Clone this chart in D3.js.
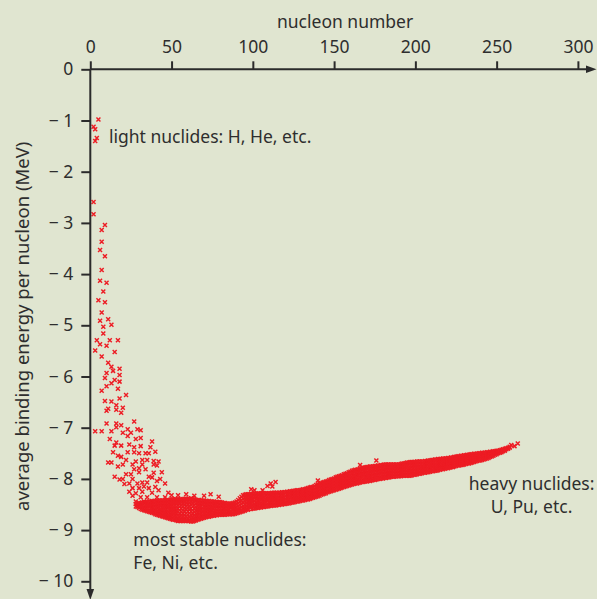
<!DOCTYPE html>
<html>
<head>
<meta charset="utf-8">
<script src="https://cdn.jsdelivr.net/npm/d3@7"></script>
<style>
  html, body { margin: 0; padding: 0; background: #e0e5d0; }
  svg { display: block; }
  text { font-family: "Noto Sans", "Open Sans", sans-serif; fill: #2e2e2e; }
</style>
</head>
<body>
<svg id="chart" width="597" height="599"></svg>
<script>
// Average binding energy per nucleon (MeV) against nucleon number A.

const xTicks = [0, 50, 100, 150, 200, 250, 300];
const yTicks = [0, -1, -2, -3, -4, -5, -6, -7, -8, -9, -10];

// Light nuclides near the top left.
const lightNuclides = [
  [2, -1.12], [3, -1.17], [5, -0.98], [4, -1.34], [3, -1.40]
];

// Scattered nuclides with A below ~65, read one by one: [A, B/A].
const scatterUpper = [
  [2, -2.59], [2, -2.83], [9, -3.04], [7, -3.14], [7, -3.37], [6, -3.53], [9, -3.65],
  [7, -3.92], [6, -4.13], [10, -4.17], [8, -4.34], [5, -4.51], [9, -4.55], [7, -4.75],
  [6, -4.91], [11, -4.88], [8, -5.03], [13, -4.99], [8, -5.16], [4, -5.29], [6, -5.37],
  [10, -5.40], [12, -5.29], [17, -5.29], [3, -5.49], [15, -5.52], [7, -5.61], [11, -5.73],
  [13, -5.81], [18, -5.85], [14, -5.89], [10, -5.93], [18, -5.97], [9, -6.03], [15, -6.07],
  [18, -6.10], [13, -6.13], [10, -6.19], [17, -6.24], [7, -6.28], [22, -6.36], [18, -6.43],
  [9, -6.48], [13, -6.49], [16, -6.56], [11, -6.63], [20, -6.61], [10, -6.67], [16, -6.65],
  [19, -6.71], [27, -6.88], [10, -6.92], [16, -6.92], [19, -6.95], [16, -6.99], [23, -7.03],
  [29, -7.03], [31, -7.05]
];

const scatterLower = [
  [3, -7.07], [7, -7.07], [13, -7.07], [20, -7.10], [25, -7.10], [23, -7.16], [28, -7.22],
  [31, -7.20], [12, -7.22], [16, -7.29], [15, -7.35], [19, -7.35], [24, -7.33], [27, -7.38],
  [31, -7.36], [38, -7.27], [37, -7.38], [14, -7.48], [17, -7.55], [19, -7.57], [23, -7.48],
  [27, -7.48], [30, -7.50], [34, -7.50], [36, -7.50], [40, -7.47], [22, -7.63], [28, -7.66],
  [32, -7.63], [35, -7.63], [39, -7.65], [42, -7.66], [11, -7.68], [13, -7.68], [17, -7.76],
  [20, -7.72], [26, -7.72], [32, -7.72], [39, -7.72], [41, -7.74], [34, -7.81], [30, -7.79],
  [27, -7.81], [39, -7.88], [44, -7.87], [22, -7.91], [25, -7.91], [30, -7.87], [15, -7.96],
  [18, -8.01], [20, -8.00], [26, -8.00], [36, -7.96], [38, -7.97], [21, -8.10], [24, -8.09],
  [29, -8.09], [32, -8.07], [35, -8.07], [41, -8.04], [43, -8.00], [46, -8.09], [26, -8.18],
  [30, -8.18], [33, -8.15], [36, -8.18], [40, -8.16], [42, -8.22], [24, -8.25], [28, -8.28],
  [32, -8.25], [38, -8.27], [48, -8.27], [50, -8.32], [54, -8.32], [59, -8.30], [64, -8.33],
  [26, -8.33], [31, -8.36], [35, -8.36], [41, -8.36], [46, -8.36], [28, -8.44], [33, -8.44],
  [38, -8.43], [44, -8.44], [52, -8.41], [57, -8.41], [62, -8.38]
];

// Isolated points sitting just above or beyond the main band.
const bandOutliers = [
  [70, -8.33], [74, -8.30], [79, -8.35], [99, -8.20], [101, -8.22], [106, -8.22],
  [109, -8.14], [111, -8.09], [112, -8.15], [114, -8.06], [140, -8.03], [166, -7.73],
  [176, -7.64], [259, -7.34], [261, -7.36], [263, -7.31]
];

// Dense valley of stability: each row is [A, B/A values of its isobars...].
const bandLight = [
  [28, -8.49, -8.54], [29, -8.48, -8.55], [30, -8.47, -8.52, -8.57], [31, -8.47, -8.53, -8.59],
  [32, -8.46, -8.53, -8.60], [33, -8.46, -8.54, -8.61], [34, -8.45, -8.51, -8.57, -8.62],
  [35, -8.45, -8.51, -8.58, -8.63], [36, -8.44, -8.51, -8.58, -8.64], [37, -8.44, -8.51, -8.58, -8.65],
  [38, -8.44, -8.50, -8.56, -8.61, -8.66], [39, -8.43, -8.49, -8.55, -8.61, -8.67],
  [40, -8.43, -8.50, -8.56, -8.63, -8.69], [41, -8.43, -8.50, -8.57, -8.64, -8.70],
  [42, -8.42, -8.49, -8.56, -8.64, -8.71], [43, -8.42, -8.48, -8.54, -8.60, -8.66, -8.72],
  [44, -8.42, -8.48, -8.55, -8.61, -8.67, -8.73], [45, -8.42, -8.49, -8.55, -8.62, -8.68, -8.74],
  [46, -8.41, -8.48, -8.55, -8.62, -8.69, -8.75], [47, -8.41, -8.48, -8.55, -8.62, -8.69, -8.76],
  [48, -8.41, -8.47, -8.53, -8.59, -8.65, -8.71, -8.77], [49, -8.41, -8.47, -8.53, -8.60, -8.66, -8.72, -8.78],
  [50, -8.40, -8.47, -8.53, -8.60, -8.66, -8.73, -8.79], [51, -8.40, -8.47, -8.54, -8.60, -8.67, -8.74, -8.80],
  [52, -8.40, -8.47, -8.53, -8.60, -8.67, -8.73, -8.80], [53, -8.40, -8.47, -8.54, -8.61, -8.67, -8.74, -8.81],
  [54, -8.40, -8.46, -8.52, -8.58, -8.64, -8.70, -8.76, -8.82], [55, -8.40, -8.47, -8.54, -8.61, -8.68, -8.75, -8.82],
  [56, -8.40, -8.46, -8.52, -8.58, -8.64, -8.70, -8.76, -8.82], [57, -8.40, -8.47, -8.54, -8.61, -8.68, -8.75, -8.82],
  [58, -8.39, -8.45, -8.51, -8.57, -8.63, -8.70, -8.76, -8.82], [59, -8.39, -8.46, -8.53, -8.60, -8.67, -8.74, -8.82],
  [60, -8.39, -8.45, -8.51, -8.57, -8.63, -8.70, -8.76, -8.82], [61, -8.39, -8.46, -8.53, -8.60, -8.67, -8.75, -8.82],
  [62, -8.39, -8.45, -8.51, -8.58, -8.64, -8.70, -8.77, -8.83], [63, -8.40, -8.47, -8.54, -8.61, -8.68, -8.76, -8.83],
  [64, -8.40, -8.46, -8.52, -8.58, -8.64, -8.70, -8.76, -8.82], [65, -8.41, -8.48, -8.55, -8.61, -8.68, -8.74, -8.81],
  [66, -8.41, -8.47, -8.53, -8.60, -8.66, -8.73, -8.80], [67, -8.41, -8.48, -8.54, -8.60, -8.67, -8.73, -8.79],
  [68, -8.42, -8.48, -8.54, -8.60, -8.66, -8.72, -8.78], [69, -8.42, -8.49, -8.56, -8.63, -8.70, -8.77],
  [70, -8.42, -8.48, -8.55, -8.62, -8.69, -8.76]
];

const bandMiddle = [
  [71, -8.43, -8.49, -8.55, -8.62, -8.68, -8.75], [72, -8.43, -8.49, -8.55, -8.61, -8.68, -8.74],
  [73, -8.43, -8.50, -8.56, -8.62, -8.68, -8.74], [74, -8.44, -8.50, -8.56, -8.61, -8.67, -8.73],
  [75, -8.44, -8.50, -8.56, -8.61, -8.67, -8.72], [76, -8.44, -8.51, -8.58, -8.65, -8.72],
  [77, -8.45, -8.51, -8.58, -8.64, -8.71], [78, -8.45, -8.52, -8.58, -8.65, -8.71],
  [79, -8.45, -8.51, -8.57, -8.64, -8.70], [80, -8.45, -8.52, -8.58, -8.64, -8.70],
  [81, -8.46, -8.52, -8.58, -8.64, -8.70], [82, -8.47, -8.53, -8.59, -8.64, -8.70],
  [83, -8.47, -8.53, -8.58, -8.64, -8.70], [84, -8.48, -8.54, -8.60, -8.65, -8.69],
  [85, -8.48, -8.53, -8.58, -8.64, -8.69], [86, -8.49, -8.54, -8.59, -8.64, -8.69],
  [87, -8.48, -8.53, -8.59, -8.64, -8.69], [88, -8.47, -8.53, -8.58, -8.64, -8.69],
  [89, -8.46, -8.52, -8.57, -8.63, -8.68], [90, -8.44, -8.50, -8.56, -8.61, -8.67],
  [91, -8.41, -8.47, -8.53, -8.60, -8.66], [92, -8.38, -8.44, -8.51, -8.58, -8.65],
  [93, -8.35, -8.42, -8.49, -8.56, -8.64], [94, -8.32, -8.39, -8.46, -8.53, -8.58, -8.63],
  [95, -8.31, -8.37, -8.43, -8.50, -8.56, -8.62], [96, -8.30, -8.36, -8.42, -8.48, -8.54, -8.60],
  [97, -8.30, -8.36, -8.43, -8.49, -8.55, -8.60], [98, -8.30, -8.36, -8.42, -8.47, -8.53, -8.59],
  [99, -8.29, -8.35, -8.41, -8.47, -8.53, -8.59], [100, -8.29, -8.35, -8.41, -8.46, -8.52, -8.58],
  [101, -8.29, -8.35, -8.42, -8.48, -8.53, -8.58], [102, -8.29, -8.35, -8.40, -8.46, -8.51, -8.57],
  [103, -8.29, -8.35, -8.41, -8.47, -8.52, -8.57], [104, -8.28, -8.34, -8.39, -8.45, -8.50, -8.56],
  [105, -8.28, -8.34, -8.40, -8.46, -8.51, -8.56], [106, -8.28, -8.33, -8.39, -8.44, -8.50, -8.55],
  [107, -8.28, -8.35, -8.42, -8.48, -8.55], [108, -8.28, -8.34, -8.41, -8.47, -8.54],
  [109, -8.28, -8.35, -8.41, -8.48, -8.54], [110, -8.28, -8.34, -8.40, -8.47, -8.53],
  [111, -8.28, -8.34, -8.41, -8.47, -8.53], [112, -8.27, -8.33, -8.40, -8.46, -8.52],
  [113, -8.27, -8.34, -8.40, -8.46, -8.52], [114, -8.27, -8.33, -8.39, -8.46, -8.52],
  [115, -8.27, -8.33, -8.39, -8.45, -8.51], [116, -8.27, -8.34, -8.40, -8.45, -8.51],
  [117, -8.27, -8.33, -8.39, -8.44, -8.50], [118, -8.26, -8.32, -8.38, -8.44, -8.50],
  [119, -8.26, -8.32, -8.38, -8.43, -8.49], [120, -8.26, -8.33, -8.39, -8.44, -8.49],
  [121, -8.25, -8.31, -8.37, -8.43, -8.48], [122, -8.25, -8.31, -8.36, -8.42, -8.48],
  [123, -8.24, -8.30, -8.36, -8.42, -8.47], [124, -8.24, -8.30, -8.35, -8.41, -8.46],
  [125, -8.23, -8.29, -8.35, -8.41, -8.46], [126, -8.23, -8.29, -8.34, -8.40, -8.45],
  [127, -8.22, -8.28, -8.33, -8.39, -8.44], [128, -8.22, -8.28, -8.34, -8.39, -8.44],
  [129, -8.22, -8.27, -8.33, -8.38, -8.43], [130, -8.21, -8.26, -8.32, -8.37, -8.42],
  [131, -8.20, -8.26, -8.31, -8.37, -8.42], [132, -8.20, -8.25, -8.31, -8.36, -8.41],
  [133, -8.19, -8.24, -8.30, -8.35, -8.40], [134, -8.18, -8.24, -8.29, -8.35, -8.40],
  [135, -8.17, -8.23, -8.28, -8.34, -8.39], [136, -8.16, -8.22, -8.27, -8.33, -8.38],
  [137, -8.16, -8.21, -8.27, -8.32, -8.37], [138, -8.14, -8.20, -8.25, -8.31, -8.36],
  [139, -8.12, -8.18, -8.24, -8.30, -8.35], [140, -8.11, -8.17, -8.23, -8.29, -8.34],
  [141, -8.09, -8.15, -8.21, -8.27, -8.33], [142, -8.08, -8.14, -8.20, -8.26, -8.31],
  [143, -8.07, -8.13, -8.19, -8.25, -8.30], [144, -8.06, -8.12, -8.18, -8.24, -8.29],
  [145, -8.05, -8.11, -8.17, -8.23, -8.28], [146, -8.04, -8.10, -8.15, -8.21, -8.26],
  [147, -8.02, -8.08, -8.14, -8.20, -8.25], [148, -8.01, -8.07, -8.13, -8.19, -8.24],
  [149, -8.00, -8.06, -8.12, -8.18, -8.23], [150, -7.99, -8.05, -8.11, -8.17, -8.22]
];

const bandHeavy = [
  [151, -7.97, -8.03, -8.09, -8.15, -8.21], [152, -7.96, -8.02, -8.08, -8.14, -8.20],
  [153, -7.95, -8.01, -8.07, -8.13, -8.19], [154, -7.94, -8.00, -8.06, -8.12, -8.18],
  [155, -7.93, -7.99, -8.05, -8.11, -8.17], [156, -7.91, -7.97, -8.04, -8.10, -8.16],
  [157, -7.90, -7.96, -8.03, -8.09, -8.15], [158, -7.89, -7.95, -8.01, -8.08, -8.14],
  [159, -7.87, -7.94, -8.00, -8.07, -8.13], [160, -7.86, -7.93, -7.99, -8.06, -8.12],
  [161, -7.84, -7.91, -7.97, -8.04, -8.11], [162, -7.83, -7.90, -7.97, -8.03, -8.10],
  [163, -7.82, -7.89, -7.96, -8.02, -8.09], [164, -7.82, -7.89, -7.95, -8.02, -8.09],
  [165, -7.81, -7.88, -7.94, -8.01, -8.08], [166, -7.80, -7.87, -7.94, -8.00, -8.07],
  [167, -7.79, -7.86, -7.93, -7.99, -8.06], [168, -7.78, -7.85, -7.92, -7.99, -8.06],
  [169, -7.78, -7.85, -7.91, -7.98, -8.05], [170, -7.77, -7.84, -7.91, -7.98, -8.05],
  [171, -7.77, -7.84, -7.90, -7.97, -8.04], [172, -7.76, -7.83, -7.90, -7.97, -8.04],
  [173, -7.76, -7.83, -7.89, -7.96, -8.03], [174, -7.76, -7.82, -7.89, -7.95, -8.02],
  [175, -7.75, -7.82, -7.88, -7.95, -8.02], [176, -7.75, -7.81, -7.88, -7.94, -8.01],
  [177, -7.74, -7.81, -7.87, -7.94, -8.00], [178, -7.74, -7.80, -7.87, -7.93, -8.00],
  [179, -7.73, -7.80, -7.86, -7.93, -7.99], [180, -7.73, -7.79, -7.86, -7.92, -7.99],
  [181, -7.72, -7.79, -7.85, -7.92, -7.98], [182, -7.72, -7.78, -7.85, -7.91, -7.98],
  [183, -7.72, -7.78, -7.84, -7.91, -7.97], [184, -7.72, -7.78, -7.84, -7.90, -7.97],
  [185, -7.72, -7.78, -7.84, -7.90, -7.96], [186, -7.72, -7.78, -7.84, -7.90, -7.96],
  [187, -7.72, -7.78, -7.84, -7.90, -7.96], [188, -7.72, -7.77, -7.83, -7.89, -7.95],
  [189, -7.72, -7.77, -7.83, -7.89, -7.95], [190, -7.72, -7.77, -7.83, -7.89, -7.95],
  [191, -7.71, -7.77, -7.83, -7.89, -7.95], [192, -7.70, -7.76, -7.82, -7.88, -7.94],
  [193, -7.70, -7.76, -7.82, -7.88, -7.94], [194, -7.69, -7.75, -7.81, -7.88, -7.94],
  [195, -7.68, -7.75, -7.81, -7.87, -7.94], [196, -7.68, -7.74, -7.81, -7.87, -7.94],
  [197, -7.67, -7.74, -7.80, -7.87, -7.94], [198, -7.67, -7.73, -7.80, -7.86, -7.93],
  [199, -7.67, -7.73, -7.79, -7.86, -7.92], [200, -7.67, -7.73, -7.79, -7.85, -7.92],
  [201, -7.66, -7.72, -7.79, -7.85, -7.91], [202, -7.66, -7.72, -7.78, -7.84, -7.90],
  [203, -7.66, -7.72, -7.78, -7.84, -7.90], [204, -7.66, -7.72, -7.78, -7.83, -7.89],
  [205, -7.66, -7.72, -7.77, -7.83, -7.88], [206, -7.65, -7.71, -7.77, -7.82, -7.88],
  [207, -7.65, -7.71, -7.76, -7.82, -7.87], [208, -7.64, -7.70, -7.76, -7.81, -7.87],
  [209, -7.64, -7.70, -7.75, -7.81, -7.86], [210, -7.63, -7.69, -7.75, -7.80, -7.85],
  [211, -7.63, -7.69, -7.74, -7.80, -7.85], [212, -7.62, -7.68, -7.74, -7.79, -7.84],
  [213, -7.62, -7.68, -7.73, -7.79, -7.84], [214, -7.61, -7.67, -7.73, -7.78, -7.83],
  [215, -7.61, -7.67, -7.72, -7.77, -7.82], [216, -7.61, -7.67, -7.72, -7.77, -7.81],
  [217, -7.60, -7.66, -7.71, -7.76, -7.81], [218, -7.60, -7.66, -7.71, -7.76, -7.80],
  [219, -7.60, -7.65, -7.70, -7.75, -7.79], [220, -7.59, -7.65, -7.70, -7.75, -7.79],
  [221, -7.59, -7.64, -7.69, -7.74, -7.78], [222, -7.58, -7.64, -7.69, -7.73, -7.77],
  [223, -7.58, -7.63, -7.68, -7.73, -7.77], [224, -7.57, -7.63, -7.68, -7.72, -7.76],
  [225, -7.57, -7.62, -7.67, -7.71, -7.75], [226, -7.56, -7.62, -7.67, -7.71, -7.74],
  [227, -7.56, -7.61, -7.66, -7.70, -7.74], [228, -7.55, -7.61, -7.66, -7.70, -7.73],
  [229, -7.55, -7.60, -7.65, -7.69, -7.73], [230, -7.54, -7.60, -7.65, -7.69, -7.72],
  [231, -7.54, -7.59, -7.64, -7.68, -7.71], [232, -7.53, -7.59, -7.64, -7.68, -7.70],
  [233, -7.53, -7.58, -7.63, -7.67, -7.70], [234, -7.52, -7.58, -7.63, -7.67, -7.69],
  [235, -7.52, -7.57, -7.62, -7.66, -7.68], [236, -7.51, -7.57, -7.62, -7.67],
  [237, -7.51, -7.56, -7.61, -7.66], [238, -7.51, -7.56, -7.61, -7.65],
  [239, -7.50, -7.55, -7.60, -7.64], [240, -7.50, -7.55, -7.59, -7.64],
  [241, -7.49, -7.54, -7.59, -7.63], [242, -7.49, -7.54, -7.58, -7.62],
  [243, -7.49, -7.53, -7.57, -7.61], [244, -7.48, -7.53, -7.57, -7.60],
  [245, -7.48, -7.52, -7.56, -7.59], [246, -7.47, -7.51, -7.54, -7.57],
  [247, -7.47, -7.50, -7.53, -7.56], [248, -7.46, -7.50, -7.52, -7.55],
  [249, -7.46, -7.49, -7.53], [250, -7.45, -7.48, -7.52], [251, -7.45, -7.48, -7.50],
  [252, -7.44, -7.47, -7.49], [253, -7.43, -7.46, -7.48], [254, -7.42, -7.44, -7.46],
  [255, -7.41, -7.43, -7.45], [256, -7.40, -7.42], [257, -7.39, -7.41], [258, -7.37, -7.39]
];

const annotations = [
  { lines: ["light nuclides: H, He, etc."], a: 11.5, b: -1.445, anchor: "start" },
  { lines: ["most stable nuclides:", "Fe, Ni, etc."], a: 26.5, b: -9.32, anchor: "start" },
  { lines: ["heavy nuclides:", "U, Pu, etc."], a: 271.5, b: -8.22, anchor: "middle" }
];

const W = 597, H = 599;
const fontSize = "17.5px";
const svg = d3.select("#chart");

svg.append("rect").attr("width", W).attr("height", H).attr("fill", "#e0e5d0");

const x = d3.scaleLinear().domain([0, 300]).range([90.3, 577.9]);
const y = d3.scaleLinear().domain([0, -10]).range([69.3, 581.3]);

const ink = "#2b2b2b";
const red = "#ed1c24";

// Flatten every group into [A, B/A] points.
const points = []
  .concat(lightNuclides, scatterUpper, scatterLower, bandOutliers)
  .concat(...[bandLight, bandMiddle, bandHeavy].map(rows =>
    rows.flatMap(r => r.slice(1).map(v => [r[0], v]))));

const s = 2;
const cross = `M${-s},${-s}L${s},${s}M${-s},${s}L${s},${-s}`;

svg.append("g")
  .attr("fill", "none")
  .attr("stroke", red)
  .attr("stroke-width", 1.45)
  .selectAll("path")
  .data(points)
  .join("path")
  .attr("transform", d => `translate(${x(d[0])},${y(d[1])})`)
  .attr("d", cross);

// Axes
const fmtY = v => v === 0 ? "0" : "\u2212 " + Math.abs(v);

const gx = svg.append("g")
  .attr("transform", `translate(0,${y(0)})`)
  .call(d3.axisTop(x).tickValues(xTicks).tickSize(8).tickPadding(8).tickFormat(d3.format("d")));

const gy = svg.append("g")
  .attr("transform", `translate(${x(0)},0)`)
  .call(d3.axisLeft(y).tickValues(yTicks).tickSize(9).tickPadding(8).tickFormat(fmtY));

[gx, gy].forEach(g => {
  g.select(".domain").remove();
  g.selectAll(".tick line").attr("stroke", ink).attr("stroke-width", 2);
  g.selectAll(".tick text")
    .attr("fill", ink)
    .style("font-family", '"Noto Sans", sans-serif')
    .style("font-size", fontSize);
});

// Axis lines with arrowheads
const axisG = svg.append("g").attr("stroke", ink).attr("stroke-width", 2);
axisG.append("line").attr("x1", x(0)).attr("x2", W - 8).attr("y1", y(0)).attr("y2", y(0));
axisG.append("line").attr("x1", x(0)).attr("x2", x(0)).attr("y1", y(0)).attr("y2", H - 6);

svg.append("path")
  .attr("fill", ink)
  .attr("d", `M${W - 0.5},${y(0)}L${W - 11},${y(0) - 3.8}L${W - 11},${y(0) + 3.8}Z`);
svg.append("path")
  .attr("fill", ink)
  .attr("d", `M${x(0)},${H + 1}L${x(0) - 3.8},${H - 10}L${x(0) + 3.8},${H - 10}Z`);

// Axis titles
svg.append("text")
  .attr("x", (x(0) + x(300)) / 2 + 11)
  .attr("y", 28)
  .attr("text-anchor", "middle")
  .style("font-size", fontSize)
  .text("nucleon number");

svg.append("text")
  .attr("transform", `translate(29,${(y(-1) + y(-9)) / 2 + 1}) rotate(-90)`)
  .attr("text-anchor", "middle")
  .style("font-size", "18.5px")
  .text("average binding energy per nucleon (MeV)");

// Annotations
annotations.forEach(a => {
  const t = svg.append("text")
    .attr("x", x(a.a))
    .attr("y", y(a.b))
    .attr("text-anchor", a.anchor)
    .style("font-size", fontSize);
  a.lines.forEach((line, i) => {
    t.append("tspan")
      .attr("x", x(a.a))
      .attr("dy", i === 0 ? 0 : 22.5)
      .text(line);
  });
});
</script>
</body>
</html>
